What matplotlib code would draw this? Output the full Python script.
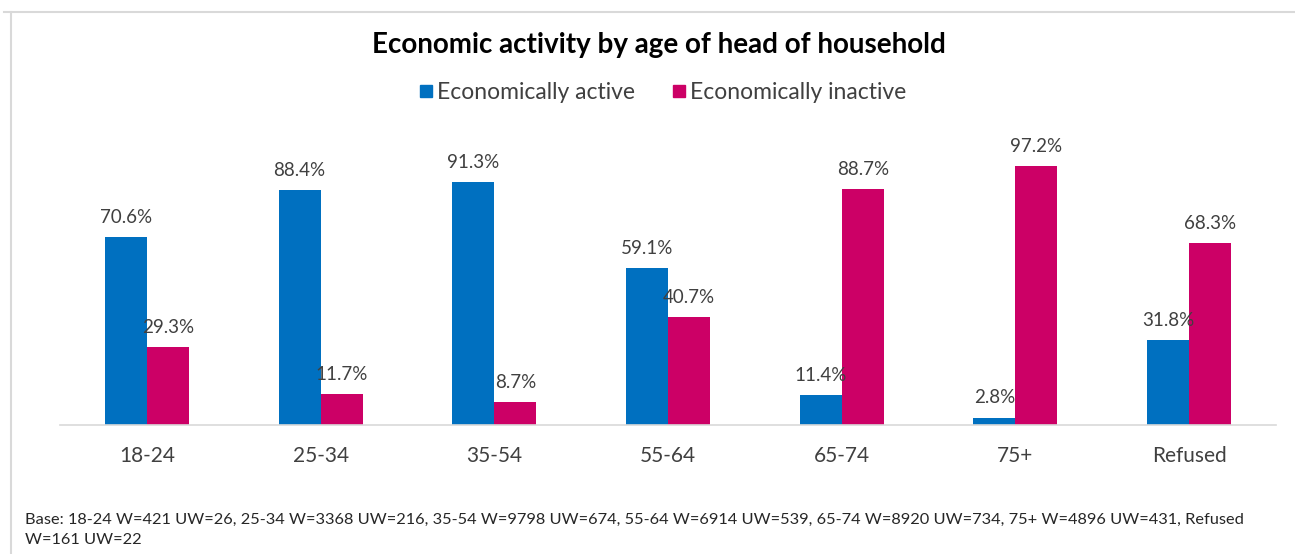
import numpy as np
import matplotlib.pyplot as plt
from matplotlib.lines import Line2D

# Data
ages = ['18-24', '25-34', '35-54', '55-64', '65-74', '75+', 'Refused']
active = [70.6, 88.4, 91.3, 59.1, 11.4, 2.8, 31.8]
inactive = [29.3, 11.7, 8.7, 40.7, 88.7, 97.2, 68.3]
base_note = ('Base: 18-24 W=421 UW=26, 25-34 W=3368 UW=216, 35-54 W=9798 UW=674, '
             '55-64 W=6914 UW=539, 65-74 W=8920 UW=734, 75+ W=4896 UW=431, Refused\n'
             'W=161 UW=22')

blue = '#0070C0'
pink = '#CC0066'
text_col = '#404040'

plt.rcParams['font.family'] = ['Lato', 'DejaVu Sans']

W, H = 1295, 554
fig = plt.figure(figsize=(W / 100, H / 100), dpi=100)

# axes placed in pixel coordinates: x 60..1276, baseline y=425, 100% at y=159
ax = fig.add_axes([60 / W, (H - 425) / H, (1276 - 60) / W, 266 / H])

x = np.arange(len(ages))
bw = 0.242
b1 = ax.bar(x - bw / 2, active, bw, color=blue, label='Economically active')
b2 = ax.bar(x + bw / 2, inactive, bw, color=pink, label='Economically inactive')

for bars, vals in [(b1, active), (b2, inactive)]:
    for rect, v in zip(bars, vals):
        ax.annotate(f'{v:.1f}%', (rect.get_x() + rect.get_width() / 2, v),
                    xytext=(0, 8), textcoords='offset points',
                    ha='center', va='bottom', fontsize=13.5, color=text_col)

ax.set_xlim(-0.5, len(ages) - 0.5)
ax.set_ylim(0, 100)
ax.set_xticks(x)
ax.set_xticklabels(ages, fontsize=15, color=text_col)
ax.tick_params(axis='x', length=0, pad=15)
ax.set_yticks([])
for s in ['top', 'right', 'left']:
    ax.spines[s].set_visible(False)
ax.spines['bottom'].set_color('#d9d9d9')
ax.spines['bottom'].set_linewidth(1.2)

fig.text(659 / W, 1 - 45 / H, 'Economic activity by age of head of household',
         ha='center', va='center', fontsize=20, fontweight='bold', color='black')

handles = [Line2D([], [], marker='s', linestyle='none', markersize=8, color=blue),
           Line2D([], [], marker='s', linestyle='none', markersize=8, color=pink)]
fig.legend(handles, ['Economically active', 'Economically inactive'],
           loc='center', bbox_to_anchor=(662 / W, 1 - 93 / H), ncol=2,
           frameon=False, fontsize=16.5, labelcolor=text_col,
           handletextpad=0.1, columnspacing=1.6, handlelength=0.7)

fig.text(25 / W, 1 - 530 / H, base_note, ha='left', va='center',
         fontsize=11.8, color='#262626', linespacing=1.5)

# light frame around the chart area (top and left edges)
fig.add_artist(Line2D([4 / W, 1], [1 - 12 / H, 1 - 12 / H], color='#d9d9d9', lw=1.5))
fig.add_artist(Line2D([11 / W, 11 / W], [0, 1 - 12 / H], color='#d9d9d9', lw=1.5))

fig.savefig('out.png', dpi=100)
